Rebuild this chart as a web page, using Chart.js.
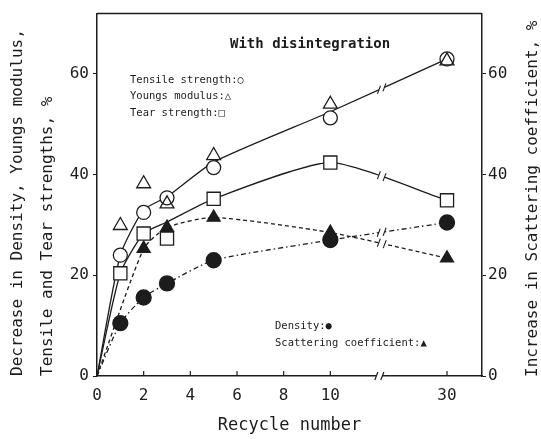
<!DOCTYPE html>
<html>
<head>
<meta charset="utf-8">
<script src="https://cdn.jsdelivr.net/npm/chart.js@4.4.1/dist/chart.umd.min.js"></script>
<style>
  body { margin: 0; background: #fff; }
  #grafico { display: block; }
</style>
</head>
<body>
<canvas id="grafico" width="541" height="439"></canvas>
<script>
// Recycle number (0 = virgin pulp)
const recycleNumber = [0, 1, 2, 3, 5, 10, 30];

// Markers, decrease in %
const tensileStrength = [null, 24.0, 32.5, 35.4, 41.4, 51.3, 63.0];
const youngsModulus = [null, 29.9, 38.2, 34.2, 43.8, 54.0, 62.6];
const tearStrength = [null, 20.4, 28.3, 27.3, 35.2, 42.4, 34.9];
const density = [null, 10.5, 15.6, 18.4, 23.0, 27.0, 30.5];
// Markers, increase in %
const scatteringCoef = [null, null, 25.3, 29.5, 31.5, 28.5, 23.4];

// Curves drawn through the points
const tensileCurve = [0, 24.0, 33.0, 35.6, 42.5, 52.5, 63.0];
const tearCurve = [0, 20.4, 28.3, 30.6, 35.2, 42.4, 34.9];
const densityCurve = [0, 10.5, 15.6, 18.4, 23.0, 27.0, 30.5];
const scatteringCurve = [0, null, 25.3, 29.5, 31.5, 28.5, 23.4];

const xTicks = [0, 2, 4, 6, 8, 10, 30];
const yTicks = [0, 20, 40, 60];

const legendTop = ["Tensile strength:○", "Youngs modulus:△", "Tear strength:□"];
const legendBottom = ["Density:●", "Scattering coefficient:▲"];
const titulo = "With disintegration";
const tituloDerecho = "Increase in Scattering coefficient, %";

const INK = "#1c1c1c";
const FONT = "'DejaVu Sans Mono', monospace";

// axis is broken after 10: 30 sits at position 15
function ejeX(n) {
  return n > 10 ? 15 : n;
}

function puntos(valores) {
  return recycleNumber.map((n, i) => ({ x: ejeX(n), y: valores[i] }));
}

function marcador(label, valores, estilo, radio, relleno, eje) {
  return {
    label: label,
    data: puntos(valores),
    yAxisID: eje || "y",
    showLine: false,
    pointStyle: estilo,
    pointRadius: radio,
    pointBorderWidth: 1.3,
    pointBorderColor: INK,
    pointBackgroundColor: relleno,
    order: 0,
  };
}

function curva(label, valores, dash, eje) {
  return {
    label: label,
    data: puntos(valores),
    yAxisID: eje || "y",
    showLine: true,
    borderColor: INK,
    borderWidth: 1.3,
    borderDash: dash,
    pointRadius: 0,
    tension: 0.2,
    spanGaps: true,
    fill: false,
    order: 5,
  };
}

// break marks, top border, inward x ticks and the texts inside the plot
const extras = {
  id: "extras",
  afterDatasetsDraw(chart) {
    const { ctx, chartArea: a, scales } = chart;
    ctx.save();
    ctx.strokeStyle = INK;
    ctx.lineWidth = 1.5;
    ctx.beginPath();
    ctx.moveTo(a.left, a.top);
    ctx.lineTo(a.right, a.top);
    ctx.stroke();

    ctx.lineWidth = 1.2;
    scales.x.ticks.forEach((t) => {
      const px = scales.x.getPixelForValue(t.value);
      if (px <= a.left + 1) return;
      ctx.beginPath();
      ctx.moveTo(px, a.bottom);
      ctx.lineTo(px, a.bottom - 5);
      ctx.stroke();
    });

    // x axis break
    const bx = scales.x.getPixelForValue(12.1);
    ctx.fillStyle = "#fff";
    ctx.fillRect(bx - 3, a.bottom - 3, 6, 6);
    [-3, 3].forEach((d) => {
      ctx.beginPath();
      ctx.moveTo(bx + d - 1.5, a.bottom + 4);
      ctx.lineTo(bx + d + 1.5, a.bottom - 4);
      ctx.stroke();
    });

    // breaks on the curves between 10 and 30
    chart.data.datasets.forEach((ds, i) => {
      if (ds.pointRadius !== 0) return;
      const pts = chart.getDatasetMeta(i).data;
      const p0 = pts[5], p1 = pts[6];
      if (!p0 || !p1) return;
      const t = 0.45;
      const c1x = p0.cp2x ?? p0.x, c1y = p0.cp2y ?? p0.y;
      const c2x = p1.cp1x ?? p1.x, c2y = p1.cp1y ?? p1.y;
      const u = 1 - t;
      const x = u*u*u*p0.x + 3*u*u*t*c1x + 3*u*t*t*c2x + t*t*t*p1.x;
      const y = u*u*u*p0.y + 3*u*u*t*c1y + 3*u*t*t*c2y + t*t*t*p1.y;
      const dx = 3*u*u*(c1x - p0.x) + 6*u*t*(c2x - c1x) + 3*t*t*(p1.x - c2x);
      const dy = 3*u*u*(c1y - p0.y) + 6*u*t*(c2y - c1y) + 3*t*t*(p1.y - c2y);
      const len = Math.hypot(dx, dy) || 1;
      const ux = dx / len, uy = dy / len;
      ctx.strokeStyle = "#fff";
      ctx.lineWidth = 4;
      ctx.setLineDash([]);
      ctx.beginPath();
      ctx.moveTo(x - ux * 3, y - uy * 3);
      ctx.lineTo(x + ux * 3, y + uy * 3);
      ctx.stroke();
      ctx.strokeStyle = INK;
      ctx.lineWidth = 1.1;
      [-3, 3].forEach((d) => {
        const cx = x + ux * d, cy = y + uy * d;
        ctx.beginPath();
        ctx.moveTo(cx - 1.5, cy + 4);
        ctx.lineTo(cx + 1.5, cy - 4);
        ctx.stroke();
      });
    });

    ctx.fillStyle = INK;
    ctx.textBaseline = "middle";
    ctx.textAlign = "left";
    ctx.font = "bold 14px " + FONT;
    ctx.fillText(titulo, 230, 44);
    ctx.font = "10.5px " + FONT;
    legendTop.forEach((txt, i) => ctx.fillText(txt, 130, 80 + i * 16.5));
    legendBottom.forEach((txt, i) => ctx.fillText(txt, 275, 326 + i * 17));

    // right axis title, reading bottom to top like the left one
    ctx.save();
    ctx.translate(533, (a.top + a.bottom) / 2 + 4);
    ctx.rotate(-Math.PI / 2);
    ctx.textAlign = "center";
    ctx.font = "16px " + FONT;
    ctx.fillText(tituloDerecho, 0, 0);
    ctx.restore();
    ctx.restore();
  },
};

const ctx = document.getElementById("grafico");

new Chart(ctx, {
  type: "scatter",
  data: {
    datasets: [
      marcador("Youngs modulus", youngsModulus, "triangle", 8, "rgba(255,255,255,0)"),
      marcador("Tensile strength", tensileStrength, "circle", 7, "#fff"),
      marcador("Tear strength", tearStrength, "rect", 9.3, "#fff"),
      marcador("Scattering coefficient", scatteringCoef, "triangle", 7.5, INK, "y2"),
      marcador("Density", density, "circle", 7.5, INK),
      curva("Tensile curve", tensileCurve, []),
      curva("Tear curve", tearCurve, []),
      curva("Density curve", densityCurve, [5, 3, 1.5, 3]),
      curva("Scattering curve", scatteringCurve, [4, 3], "y2"),
    ],
  },
  options: {
    responsive: false,
    animation: false,
    layout: { padding: { top: 12, left: 0, right: 0, bottom: 0 } },
    plugins: {
      legend: { display: false },
      tooltip: { enabled: false },
    },
    scales: {
      x: {
        type: "linear",
        min: 0,
        max: 16.5,
        afterBuildTicks: (s) => { s.ticks = xTicks.map((v) => ({ value: ejeX(v) })); },
        afterFit: (s) => { s.height = 63; },
        grid: { display: true, drawOnChartArea: false, drawTicks: false },
        border: { color: INK, width: 1.5 },
        ticks: {
          autoSkip: false,
          maxRotation: 0,
          padding: 10,
          color: INK,
          font: { family: FONT, size: 16 },
          callback: (value) => {
            const n = xTicks.find((v) => ejeX(v) === value);
            return n === undefined ? "" : String(n);
          },
        },
        title: {
          display: true,
          text: "Recycle number",
          color: INK,
          font: { family: FONT, size: 17 },
          padding: { top: 0, bottom: 3 },
        },
      },
      y: {
        position: "left",
        min: 0,
        max: 72,
        afterBuildTicks: (s) => { s.ticks = yTicks.map((v) => ({ value: v })); },
        afterFit: (s) => { s.width = 97; },
        grid: { drawOnChartArea: false, tickLength: 4, color: INK },
        border: { color: INK, width: 1.5 },
        ticks: { padding: 4, color: INK, font: { family: FONT, size: 16 } },
        title: {
          display: true,
          align: "start",
          text: ["Decrease in Density, Youngs modulus,", "Tensile and Tear strengths, %"],
          color: INK,
          font: { family: FONT, size: 16, lineHeight: 1.875 },
          padding: { top: 3, bottom: 0 },
        },
      },
      y2: {
        position: "right",
        min: 0,
        max: 72,
        afterBuildTicks: (s) => { s.ticks = yTicks.map((v) => ({ value: v })); },
        afterFit: (s) => { s.width = 59; },
        grid: { drawOnChartArea: false, tickLength: 4, color: INK },
        border: { color: INK, width: 1.5 },
        ticks: { padding: 2, color: INK, font: { family: FONT, size: 16 } },
        title: { display: false },
      },
    },
  },
  plugins: [extras],
});
</script>
</body>
</html>
